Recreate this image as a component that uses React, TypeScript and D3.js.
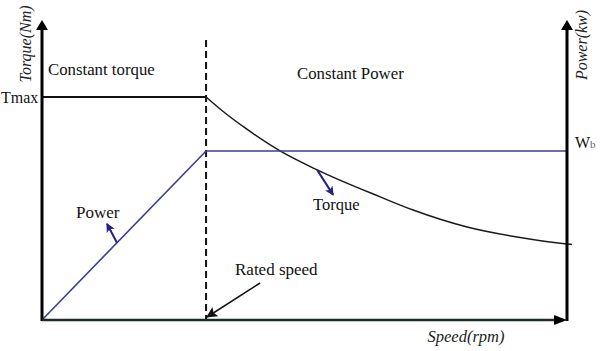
import React from "react";
import * as d3 from "d3";

// ---- data (normalised units: speed / rated speed, torque / Tmax) ----
const ratedSpeed = 1.0;
const maxSpeed = 3.2;
const constTorqueSpeed = [0, 1.0];
const constTorqueValue = [1.0, 1.0];
const weakSpeed = [1.0, 1.116, 1.238, 1.451, 1.677, 2.061, 2.262, 2.591, 2.896, 3.2, 3.23];
const weakTorque = [1.0, 0.928, 0.861, 0.758, 0.673, 0.552, 0.493, 0.417, 0.372, 0.341, 0.339];
const powerSpeed = [0, 1.0, 3.2];
const powerValue = [0, 0.758, 0.758];
const texts = {
  yLeft: "Torque(Nm)",
  yRight: "Power(kw)",
  x: "Speed(rpm)",
  region1: "Constant torque",
  region2: "Constant Power",
  tmax: "Tmax",
  wb: "W",
  wbSub: "b",
  power: "Power",
  torque: "Torque",
  rated: "Rated speed",
};

const W = 600;
const H = 351;
const FONT = "'Liberation Serif', 'DejaVu Serif', serif";
const NAVY = "#3c3c9c";
const NAVY_DARK = "#23237e";

export default function App() {
  const x = d3.scaleLinear().domain([0, maxSpeed]).range([42, 567]);
  const y = d3.scaleLinear().domain([0, 1.345]).range([320, 20]);

  const line = d3
    .line<[number, number]>()
    .x((d) => x(d[0]))
    .y((d) => y(d[1]));
  const curve = d3
    .line<[number, number]>()
    .x((d) => x(d[0]))
    .y((d) => y(d[1]))
    .curve(d3.curveMonotoneX);

  const ctPts = constTorqueSpeed.map((s, i) => [s, constTorqueValue[i]] as [number, number]);
  const wkPts = weakSpeed.map((s, i) => [s, weakTorque[i]] as [number, number]);
  const pwPts = powerSpeed.map((s, i) => [s, powerValue[i]] as [number, number]);

  const x0 = x(0);
  const xEnd = x(maxSpeed);
  const y0 = y(0);
  const yTop = y(1.345);
  const xr = x(ratedSpeed);

  // pointer anchors on the curves
  const pwAnchorS = 0.457;
  const pwA: [number, number] = [x(pwAnchorS), y((powerValue[1] / ratedSpeed) * pwAnchorS)];
  const tqAnchorS = 1.677;
  const tqA: [number, number] = [x(tqAnchorS), y(0.673)];
  const rsA: [number, number] = [xr + 1, y0 - 3];

  return (
    <svg
      width={W}
      height={H}
      style={{ position: "absolute", left: 0, top: 0, background: "#fff" }}
      fontFamily={FONT}
    >
      <defs>
        <marker id="ahNavy" viewBox="0 0 10 10" refX="9" refY="5" markerWidth="9" markerHeight="9" markerUnits="userSpaceOnUse" orient="auto">
          <path d="M0,0 L10,5 L0,10 L2.5,5 Z" fill={NAVY_DARK} />
        </marker>
        <marker id="ahBlack" viewBox="0 0 10 10" refX="9" refY="5" markerWidth="13" markerHeight="11" markerUnits="userSpaceOnUse" orient="auto">
          <path d="M0,0 L10,5 L0,10 L2,5 Z" fill="#111" />
        </marker>
      </defs>

      {/* dashed rated speed line */}
      <line x1={xr} x2={xr} y1={40} y2={y0} stroke="#111" strokeWidth={2} strokeDasharray="7,4" />

      {/* constant torque */}
      <path d={line(ctPts) || ""} fill="none" stroke="#111" strokeWidth={2} />
      {/* field-weakening torque */}
      <path d={curve(wkPts) || ""} fill="none" stroke="#1a1a1a" strokeWidth={1.5} />
      {/* power */}
      <path d={line(pwPts) || ""} fill="none" stroke={NAVY} strokeWidth={1.6} />

      {/* axes */}
      <line x1={x0} x2={x0} y1={y0 + 1} y2={yTop + 8} stroke="#000" strokeWidth={3} />
      <path d={`M${x0 - 6},${yTop + 10} L${x0},${yTop} L${x0 + 6},${yTop + 10} Z`} fill="#000" />
      <line x1={xEnd} x2={xEnd} y1={y0 + 1} y2={yTop + 8} stroke="#000" strokeWidth={3} />
      <path d={`M${xEnd - 6},${yTop + 10} L${xEnd},${yTop} L${xEnd + 6},${yTop + 10} Z`} fill="#000" />
      <line x1={x0} x2={xEnd - 8} y1={y0} y2={y0} stroke="#1e2a2a" strokeWidth={2.5} />
      <path d={`M${xEnd - 13},${y0 - 5} L${xEnd},${y0} L${xEnd - 13},${y0 + 5} Z`} fill="#000" />

      {/* axis titles */}
      <text transform={`translate(31,${44}) rotate(-90)`} textAnchor="middle" fontSize={16} fontStyle="italic" fill="#222">
        {texts.yLeft}
      </text>
      <text transform={`translate(587,${45}) rotate(-90)`} textAnchor="middle" fontSize={16} fontStyle="italic" fill="#222">
        {texts.yRight}
      </text>
      <text x={466} y={342} textAnchor="middle" fontSize={16.5} fontStyle="italic" fill="#222">
        {texts.x}
      </text>

      {/* region labels */}
      <text x={48} y={75} fontSize={16.8} fill="#111">{texts.region1}</text>
      <text x={297} y={79} fontSize={16.8} fill="#111">{texts.region2}</text>
      <text x={1} y={103} fontSize={16} fill="#111">{texts.tmax}</text>
      <text x={575} y={148} fontSize={16} fill="#111">
        {texts.wb}
        <tspan fontSize={11} fill="#666">{texts.wbSub}</tspan>
      </text>

      {/* pointer labels */}
      <line x1={pwA[0]} y1={pwA[1]} x2={pwA[0] - 10} y2={pwA[1] - 19} stroke={NAVY_DARK} strokeWidth={2} markerEnd="url(#ahNavy)" />
      <text x={76} y={218} fontSize={17} fill="#111">{texts.power}</text>

      <line x1={tqA[0]} y1={tqA[1]} x2={tqA[0] + 16} y2={tqA[1] + 25} stroke={NAVY_DARK} strokeWidth={2} markerEnd="url(#ahNavy)" />
      <text x={313} y={210} fontSize={16.5} fill="#111">{texts.torque}</text>

      <line x1={rsA[0] + 53} y1={rsA[1] - 34} x2={rsA[0]} y2={rsA[1]} stroke="#111" strokeWidth={1.5} markerEnd="url(#ahBlack)" />
      <text x={235} y={275} fontSize={17} fill="#111">{texts.rated}</text>
    </svg>
  );
}
